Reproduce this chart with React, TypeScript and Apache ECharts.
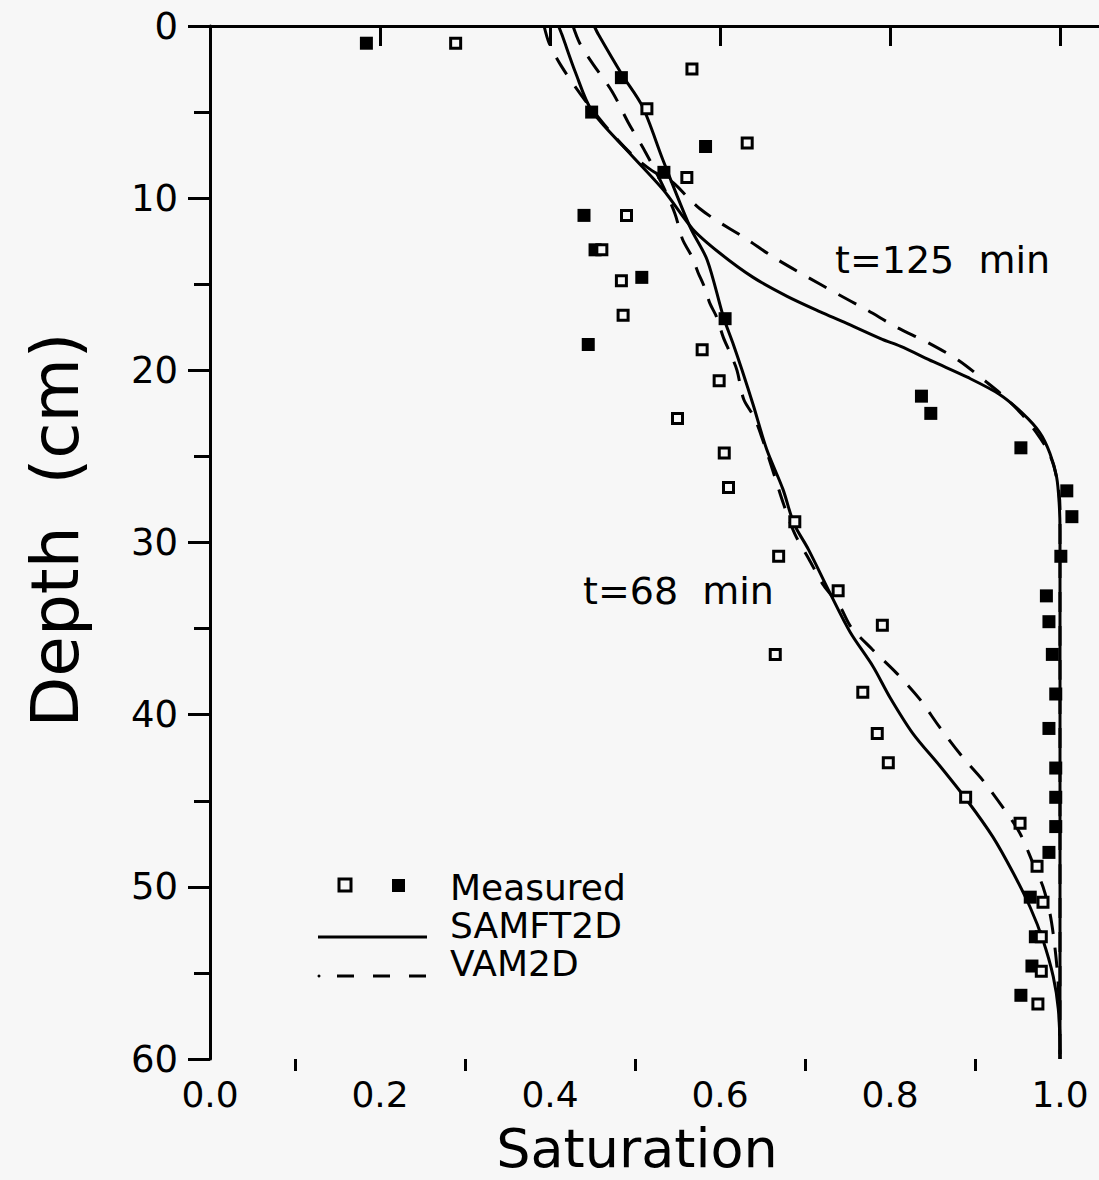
import React, { useEffect, useRef } from "react";
import * as echarts from "echarts";

// ---- data (Saturation, Depth cm) ----
const measured125: number[][] = [
  [0.184, 1.0], [0.484, 3.0], [0.449, 5.0], [0.583, 7.0], [0.534, 8.5], [0.44, 11.0],
  [0.453, 13.0], [0.508, 14.6], [0.606, 17.0], [0.445, 18.5], [0.837, 21.5], [0.848, 22.5],
  [0.954, 24.5], [1.008, 27.0], [1.014, 28.5], [1.001, 30.8], [0.984, 33.1], [0.987, 34.6],
  [0.991, 36.5], [0.995, 38.8], [0.987, 40.8], [0.995, 43.1], [0.995, 44.8], [0.995, 46.5],
  [0.987, 48.0], [0.965, 50.6], [0.971, 52.9], [0.967, 54.6], [0.954, 56.3],
];
const measured68: number[][] = [
  [0.289, 1.0], [0.567, 2.5], [0.514, 4.8], [0.632, 6.8], [0.561, 8.8], [0.49, 11.0],
  [0.461, 13.0], [0.484, 14.8], [0.486, 16.8], [0.579, 18.8], [0.599, 20.6], [0.55, 22.8],
  [0.605, 24.8], [0.61, 26.8], [0.688, 28.8], [0.669, 30.8], [0.739, 32.8], [0.791, 34.8],
  [0.665, 36.5], [0.768, 38.7], [0.785, 41.1], [0.798, 42.8], [0.889, 44.8], [0.953, 46.3],
  [0.973, 48.8], [0.98, 50.9], [0.978, 52.9], [0.978, 54.9], [0.974, 56.8],
];
const samft125: number[][] = [
  [0.41, 0], [0.414, 0.5], [0.43, 2.7], [0.449, 4.9], [0.494, 7.4], [0.533, 9.5], [0.568, 11.8],
  [0.6, 13.2], [0.639, 14.6], [0.679, 15.7], [0.718, 16.6], [0.746, 17.2], [0.791, 18.2],
  [0.812, 18.6], [0.851, 19.5], [0.891, 20.4], [0.929, 21.4], [0.956, 22.5], [0.976, 23.6],
  [0.988, 24.8], [0.996, 26.2], [0.999, 27.7], [1.0, 29.3], [1.0, 60],
];
const vam125: number[][] = [
  [0.393, 0], [0.399, 1.0], [0.413, 2.3], [0.435, 3.9], [0.452, 5.0], [0.472, 6.2], [0.495, 7.4],
  [0.52, 8.4], [0.545, 9.1], [0.561, 9.9], [0.576, 10.6], [0.596, 11.3], [0.629, 12.3],
  [0.662, 13.4], [0.7, 14.5], [0.736, 15.5], [0.773, 16.5], [0.808, 17.5], [0.845, 18.4],
  [0.88, 19.4], [0.914, 20.7], [0.936, 21.6], [0.956, 22.6], [0.972, 23.6], [0.985, 24.6],
  [0.993, 25.6], [0.998, 26.8], [1.0, 28], [1.0, 60],
];
const samft68: number[][] = [
  [0.452, 0], [0.457, 0.5], [0.485, 2.85], [0.509, 4.7], [0.533, 7.8], [0.565, 11.7],
  [0.585, 13.6], [0.604, 16.9], [0.615, 18.4], [0.626, 20.0], [0.639, 22.0], [0.655, 24.6],
  [0.674, 26.9], [0.687, 28.9], [0.704, 30.4], [0.729, 32.9], [0.753, 35.2], [0.78, 37.2],
  [0.8, 39.0], [0.827, 41.1], [0.859, 43.0], [0.891, 45.0], [0.921, 47.1], [0.945, 49.2],
  [0.965, 51.2], [0.98, 53.1], [0.992, 55.2], [0.998, 57.1], [1.0, 59.5], [1.0, 60],
];
const vam68: number[][] = [
  [0.427, 0], [0.435, 1.0], [0.449, 2.1], [0.473, 3.8], [0.492, 5.6], [0.512, 7.3], [0.532, 9.2],
  [0.547, 10.9], [0.556, 12.4], [0.567, 13.4], [0.574, 14.3], [0.582, 15.2], [0.588, 16.1],
  [0.596, 16.9], [0.604, 18.1], [0.612, 19.0], [0.62, 20.0], [0.628, 21.7], [0.64, 22.7],
  [0.65, 24.0], [0.662, 25.8], [0.675, 27.8], [0.688, 29.5], [0.705, 31.0], [0.722, 32.5],
  [0.741, 33.7], [0.754, 34.9], [0.779, 36.2], [0.808, 37.6], [0.835, 39.1], [0.858, 40.7],
  [0.886, 42.5], [0.909, 43.8], [0.933, 45.4], [0.953, 46.9], [0.968, 48.6], [0.98, 50.0],
  [0.988, 51.5], [0.993, 53.1], [0.997, 55.0], [0.999, 57.0], [1.0, 60],
];
const xMajorTicks = [0, 0.2, 0.4, 0.6, 0.8, 1.0];
const xMinorTicks = [0.1, 0.3, 0.5, 0.7, 0.9];
const xTitle = "Saturation";
const yTitle = "Depth  (cm)";
const label125 = "t=125  min";
const label68 = "t=68  min";
const legendNames = ["Measured", "SAMFT2D", "VAM2D"];

const BG = "#f7f7f7";
const INK = "#000000";
const FONT = "DejaVu Sans";
const XMAX = 889 / 850;

export default function App() {
  const ref = useRef<HTMLDivElement>(null);
  useEffect(() => {
    document.body.style.margin = "0";
    document.body.style.background = BG;
    const chart = echarts.init(ref.current!, null, { renderer: "svg" });
    const lineBase = (name: string, data: number[][], dashed: boolean) => ({
      name,
      type: "line",
      data,
      showSymbol: false,
      smooth: 0.3,
      lineStyle: { color: INK, width: 3, type: dashed ? [20, 14] : "solid" },
      z: 2,
    });
    const txt = (text: string, x: number, y: number, size: number, align = "left", rotation = 0, lh?: number) => ({
      type: "text",
      x,
      y,
      rotation,
      style: {
        text, fontSize: size, fontFamily: FONT, fill: INK, align, verticalAlign: "middle",
        lineHeight: lh ?? size,
      },
    });
    chart.setOption({
      animation: false,
      backgroundColor: BG,
      grid: { left: 210, top: 26, width: 889, height: 1033, containLabel: false },
      xAxis: [
        {
          type: "value", min: 0, max: XMAX, position: "bottom",
          axisLine: { show: true, lineStyle: { color: INK, width: 3 } },
          axisTick: { show: true, customValues: xMajorTicks, length: 20, lineStyle: { color: INK, width: 3 } },
          axisLabel: {
            customValues: xMajorTicks, formatter: (v: number) => v.toFixed(1),
            fontSize: 36, fontFamily: FONT, color: INK, margin: 17, lineHeight: 36,
          },
          splitLine: { show: false },
        },
        {
          type: "value", min: 0, max: XMAX, position: "bottom",
          axisLine: { show: false },
          axisTick: { show: true, customValues: xMinorTicks, length: 12, lineStyle: { color: INK, width: 3 } },
          axisLabel: { show: false },
          splitLine: { show: false },
        },
        {
          type: "value", min: 0, max: XMAX, position: "top",
          axisLine: { show: true, lineStyle: { color: INK, width: 3 } },
          axisTick: { show: false },
          axisLabel: { show: false },
          splitLine: { show: false },
        },
      ],
      yAxis: {
        type: "value", min: 0, max: 60, interval: 10, inverse: true,
        axisLine: { show: true, lineStyle: { color: INK, width: 3 } },
        axisTick: { show: true, length: 22, lineStyle: { color: INK, width: 3 } },
        minorTick: { show: true, splitNumber: 2, length: 16, lineStyle: { color: INK, width: 3 } },
        axisLabel: { fontSize: 37, fontFamily: FONT, color: INK, margin: 32 },
        splitLine: { show: false },
        minorSplitLine: { show: false },
      },
      series: [
        lineBase("SAMFT2D t=125", samft125, false),
        lineBase("VAM2D t=125", vam125, true),
        lineBase("SAMFT2D t=68", samft68, false),
        lineBase("VAM2D t=68", vam68, true),
        {
          name: "Measured t=125", type: "scatter", data: measured125, symbol: "rect", symbolSize: 13,
          itemStyle: { color: INK, opacity: 1 }, z: 3, clip: false,
        },
        {
          name: "Measured t=68", type: "scatter", data: measured68, symbol: "rect", symbolSize: 10,
          itemStyle: { color: BG, borderColor: INK, borderWidth: 3, opacity: 1 }, z: 4, clip: false,
        },
      ],
      graphic: [
        txt(xTitle, 637, 1148, 54, "center"),
        txt(yTitle, 55, 530, 66, "center", Math.PI / 2),
        txt(label125, 835, 260, 38),
        txt(label68, 583, 591, 38),
        // legend
        { type: "rect", shape: { x: 339, y: 879, width: 12, height: 12 }, style: { fill: BG, stroke: INK, lineWidth: 3 } },
        { type: "rect", shape: { x: 392, y: 879, width: 13, height: 13 }, style: { fill: INK } },
        { type: "line", shape: { x1: 318, y1: 937, x2: 427, y2: 937 }, style: { stroke: INK, lineWidth: 3 } },
        { type: "circle", shape: { cx: 319, cy: 976, r: 1.5 }, style: { fill: INK } },
        { type: "line", shape: { x1: 337, y1: 976, x2: 427, y2: 976 }, style: { stroke: INK, lineWidth: 3, lineDash: [17, 19] } },
        txt(legendNames.join("\n"), 450, 925, 36, "left", 0, 38),
      ],
    });
    return () => chart.dispose();
  }, []);
  return <div ref={ref} style={{ width: 1099, height: 1180 }} />;
}
